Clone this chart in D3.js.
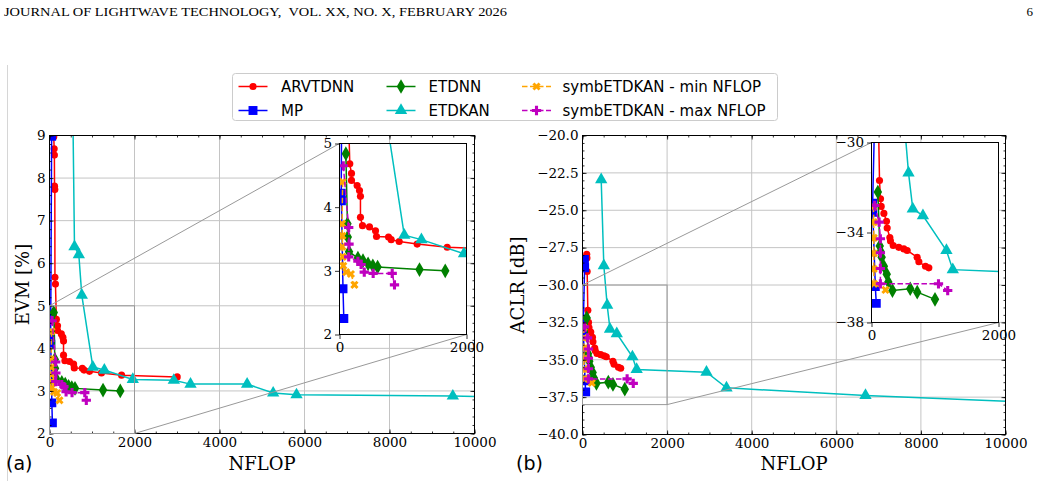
<!DOCTYPE html>
<html>
<head>
<meta charset="utf-8">
<script src="https://cdn.jsdelivr.net/npm/d3@7"></script>
<style>
body { margin: 0; background: #fff; }
svg { display: block; }
.tick text { font-family: "DejaVu Serif", serif; font-size: 13.5px; fill: #000; }
</style>
</head>
<body>
<div id="chartArea"></div>
<script>
// series, in legend order
const seriesNames = ["ARVTDNN", "MP", "ETDNN", "ETDKAN", "symbETDKAN - min NFLOP", "symbETDKAN - max NFLOP"];
const seriesColors = ["#ff0000", "#0000ff", "#008000", "#00bfbf", "#ffa500", "#bf00bf"];
const seriesShapes = ["circle", "square", "thinDiamond", "triangle", "xFilled", "plusFilled"];
const seriesDashed = [false, false, false, false, true, true];

// (a) EVM [%] vs NFLOP
const evmArvtdnnX = [100, 110, 115, 118, 125, 128, 140, 162, 189, 189, 278, 315, 330, 330, 362, 472, 567, 583, 772, 814, 940, 1223, 1696, 3005];
const evmArvtdnnY = [8.97, 8.69, 8.54, 7.81, 7.73, 5.67, 5.51, 4.68, 4.53, 4.42, 4.34, 4.26, 4.17, 3.84, 3.71, 3.69, 3.63, 3.54, 3.53, 3.49, 3.46, 3.42, 3.37, 3.33];
const evmMpX = [50, 27, 30, 55, 68];
const evmMpY = [8.98, 4.22, 4.1, 2.72, 2.25];
const evmEtdnnX = [100, 125, 130, 150, 290, 370, 450, 525, 600, 1260, 1665];
const evmEtdnnY = [4.84, 3.74, 3.53, 3.3, 3.2, 3.16, 3.11, 3.08, 3.06, 3.02, 3.0];
const evmEtdkanX = [520, 588, 690, 760, 1020, 1290, 1960, 2925, 3318, 4650, 5263, 5812, 9490, 11500];
const evmEtdkanY = [12, 6.39, 6.2, 5.25, 3.56, 3.49, 3.27, 3.25, 3.16, 3.16, 2.95, 2.91, 2.88, 2.83];
const evmSymbMinX = [50, 40, 45, 45, 50, 60, 105, 180, 235];
const evmSymbMinY = [4.4, 3.74, 3.55, 3.38, 3.22, 3.08, 2.98, 2.95, 2.78];
const evmSymbMaxX = [60, 145, 150, 145, 290, 340, 390, 530, 830, 866];
const evmSymbMaxY = [4.65, 3.68, 3.42, 3.22, 3.15, 3.1, 2.98, 2.96, 2.96, 2.78];

// (b) ACLR [dB] vs NFLOP
const aclrArvtdnnX = [100, 105, 110, 126, 142, 153, 195, 236, 247, 289, 299, 342, 430, 509, 562, 719, 746, 850, 903];
const aclrArvtdnnY = [-27.95, -28.2, -29.1, -31.69, -32.5, -32.84, -33.15, -33.5, -33.8, -34.22, -34.38, -34.58, -34.66, -34.73, -34.8, -35.1, -35.3, -35.5, -35.57];
const aclrMpX = [45, 50, 18, 20, 60, 75];
const aclrMpY = [-28.3, -28.85, -32.7, -33.1, -36.4, -37.15];
const aclrEtdnnX = [100, 130, 145, 160, 195, 240, 265, 330, 610, 720, 1000];
const aclrEtdnnY = [-32.2, -34.6, -34.85, -35.1, -35.5, -35.85, -36.2, -36.58, -36.5, -36.65, -36.97];
const aclrEtdkanX = [442, 504, 583, 650, 810, 1180, 1280, 2931, 3404, 6690, 12000];
const aclrEtdkanY = [-22.96, -28.7, -31.35, -32.95, -33.25, -34.8, -35.65, -35.83, -36.88, -37.39, -38.0];
const aclrSymbMinX = [30, 36, 36, 36, 36, 40, 220];
const aclrSymbMinY = [-32.85, -33.54, -34.24, -34.93, -35.62, -36.28, -36.55];
const aclrSymbMaxX = [50, 120, 140, 140, 140, 140, 1055, 1200];
const aclrSymbMaxY = [-32.8, -33.54, -34.28, -34.9, -35.6, -36.28, -36.28, -36.58];

// ticks
const mainXTicks = [0, 2000, 4000, 6000, 8000, 10000];
const evmYTicks = [2, 3, 4, 5, 6, 7, 8, 9];
const aclrYTicks = [-40, -37.5, -35, -32.5, -30, -27.5, -25, -22.5, -20];
const insetXTicks = [0, 2000];
const evmInsetYTicks = [2, 3, 4, 5];
const aclrInsetYTicks = [-38, -34, -30];

const zip = (xs, ys) => xs.map((v, i) => ({x: v, y: ys[i]}));
const evmSeries = [
  zip(evmArvtdnnX, evmArvtdnnY), zip(evmMpX, evmMpY), zip(evmEtdnnX, evmEtdnnY),
  zip(evmEtdkanX, evmEtdkanY), zip(evmSymbMinX, evmSymbMinY), zip(evmSymbMaxX, evmSymbMaxY)
];
const aclrSeries = [
  zip(aclrArvtdnnX, aclrArvtdnnY), zip(aclrMpX, aclrMpY), zip(aclrEtdnnX, aclrEtdnnY),
  zip(aclrEtdkanX, aclrEtdkanY), zip(aclrSymbMinX, aclrSymbMinY), zip(aclrSymbMaxX, aclrSymbMaxY)
];

const svg = d3.select('#chartArea').append('svg').attr('width', 1041).attr('height', 487);

let markerPath = function (shape) {
  if (shape == "circle") return d3.symbol(d3.symbolCircle, 40)();
  if (shape == "square") return d3.symbol(d3.symbolSquare, 80)();
  if (shape == "thinDiamond") return d3.symbol(d3.symbolDiamond, 62)();
  if (shape == "triangle") return d3.symbol(d3.symbolTriangle, 66)();
  if (shape == "plusFilled") return d3.symbol(d3.symbolCross, 48)();
  return d3.symbol(d3.symbolCross, 42)();
};
let markerRotate = shape => shape == "xFilled" ? " rotate(45)" : "";

// header
svg.append("text").attr("x", 4).attr("y", 16)
  .attr("font-family", "Liberation Serif, serif").attr("font-size", 13)
  .attr("textLength", 503).attr("lengthAdjust", "spacingAndGlyphs")
  .text("JOURNAL OF LIGHTWAVE TECHNOLOGY,\u00a0 VOL. XX, NO. X, FEBRUARY 2026");
svg.append("text").attr("x", 1033).attr("y", 16).attr("text-anchor", "end")
  .attr("font-family", "Liberation Serif, serif").attr("font-size", 13).text("6");

svg.append("line").attr("x1", 7.5).attr("x2", 7.5).attr("y1", 65).attr("y2", 481)
  .attr("stroke", "#d6d6d6").attr("stroke-width", 1);

let clipCount = 0;
function drawSeries(g, data, x, y, clipId) {
  const line = d3.line().x(d => x(d.x)).y(d => y(d.y));
  data.forEach((pts, i) => {
    const sg = g.append("g").attr("clip-path", `url(#${clipId})`);
    sg.append("path").attr("d", line(pts)).attr("fill", "none")
      .attr("stroke", seriesColors[i]).attr("stroke-width", 1.5)
      .attr("stroke-dasharray", seriesDashed[i] ? "5.5,2.5" : null);
    sg.selectAll("path.mk").data(pts).enter().append("path").attr("class", "mk")
      .attr("d", markerPath(seriesShapes[i]))
      .attr("transform", d => `translate(${x(d.x)},${y(d.y)})` + markerRotate(seriesShapes[i]))
      .attr("fill", seriesColors[i]);
  });
}

function addClip(l, t, w, h) {
  const id = "clip" + (clipCount++);
  svg.append("clipPath").attr("id", id).append("rect")
    .attr("x", l).attr("y", t).attr("width", w).attr("height", h);
  return id;
}

function drawPanel(cfg) {
  const g = svg.append("g");
  const x = d3.scaleLinear().domain([0, 10000]).range([cfg.left, cfg.right]);
  const y = d3.scaleLinear().domain(cfg.yDomain).range([cfg.bottom, cfg.top]);

  // grid
  g.selectAll("line.gx").data(mainXTicks).enter().append("line")
    .attr("x1", d => x(d)).attr("x2", d => x(d)).attr("y1", cfg.top).attr("y2", cfg.bottom)
    .attr("stroke", "#c4c4c4").attr("stroke-width", 1);
  g.selectAll("line.gy").data(cfg.yTicks).enter().append("line")
    .attr("y1", d => y(d)).attr("y2", d => y(d)).attr("x1", cfg.left).attr("x2", cfg.right)
    .attr("stroke", "#c4c4c4").attr("stroke-width", 1);

  const clipId = addClip(cfg.left, cfg.top, cfg.right - cfg.left, cfg.bottom - cfg.top);
  drawSeries(g, cfg.series, x, y, clipId);

  // ticks, inward on all four sides
  const minorX = d3.range(0, 10001, 500);
  const minorY = d3.range(cfg.yDomain[0], cfg.yDomain[1] + 1e-9, cfg.yMinor);
  g.append("g").attr("transform", `translate(0,${cfg.bottom})`)
    .call(d3.axisBottom(x).tickValues(mainXTicks).tickSize(-4).tickPadding(4).tickFormat(d3.format("d")));
  g.append("g").attr("transform", `translate(0,${cfg.bottom})`)
    .call(d3.axisBottom(x).tickValues(minorX).tickSize(-2).tickFormat(""));
  g.append("g").attr("transform", `translate(0,${cfg.top})`)
    .call(d3.axisTop(x).tickValues(mainXTicks).tickSize(-4).tickFormat(""));
  g.append("g").attr("transform", `translate(0,${cfg.top})`)
    .call(d3.axisTop(x).tickValues(minorX).tickSize(-2).tickFormat(""));
  g.append("g").attr("transform", `translate(${cfg.left},0)`)
    .call(d3.axisLeft(y).tickValues(cfg.yTicks).tickSize(-4).tickPadding(4).tickFormat(cfg.yFormat));
  g.append("g").attr("transform", `translate(${cfg.left},0)`)
    .call(d3.axisLeft(y).tickValues(minorY).tickSize(-2).tickFormat(""));
  g.append("g").attr("transform", `translate(${cfg.right},0)`)
    .call(d3.axisRight(y).tickValues(cfg.yTicks).tickSize(-4).tickFormat(""));
  g.append("g").attr("transform", `translate(${cfg.right},0)`)
    .call(d3.axisRight(y).tickValues(minorY).tickSize(-2).tickFormat(""));
  g.selectAll(".domain").remove();
  g.selectAll(".tick line").attr("stroke", "#000").attr("stroke-width", 0.8);

  g.append("rect").attr("x", cfg.left).attr("y", cfg.top)
    .attr("width", cfg.right - cfg.left).attr("height", cfg.bottom - cfg.top)
    .attr("fill", "none").attr("stroke", "#000").attr("stroke-width", 1);

  // zoomed region and connectors
  const ins = cfg.inset;
  const gray = "#999999";
  g.append("rect").attr("x", x(0)).attr("y", y(ins.yDomain[1]))
    .attr("width", x(2000) - x(0)).attr("height", y(ins.yDomain[0]) - y(ins.yDomain[1]))
    .attr("fill", "none").attr("stroke", gray).attr("stroke-width", 1);
  g.append("line").attr("x1", x(0)).attr("y1", y(ins.yDomain[1]))
    .attr("x2", ins.left).attr("y2", ins.top).attr("stroke", gray).attr("stroke-width", 1);
  g.append("line").attr("x1", x(2000)).attr("y1", y(ins.yDomain[0]))
    .attr("x2", ins.right).attr("y2", ins.bottom).attr("stroke", gray).attr("stroke-width", 1);

  // inset
  const ix = d3.scaleLinear().domain([0, 2000]).range([ins.left, ins.right]);
  const iy = d3.scaleLinear().domain(ins.yDomain).range([ins.bottom, ins.top]);
  const ig = svg.append("g");
  ig.append("rect").attr("x", ins.left).attr("y", ins.top)
    .attr("width", ins.right - ins.left).attr("height", ins.bottom - ins.top).attr("fill", "#fff");
  const iclip = addClip(ins.left, ins.top, ins.right - ins.left, ins.bottom - ins.top);
  drawSeries(ig, cfg.series, ix, iy, iclip);
  ig.append("g").attr("transform", `translate(0,${ins.bottom})`)
    .call(d3.axisBottom(ix).tickValues(insetXTicks).tickSize(4.5).tickPadding(3).tickFormat(d3.format("d")));
  ig.append("g").attr("transform", `translate(${ins.left},0)`)
    .call(d3.axisLeft(iy).tickValues(ins.yTicks).tickSize(4.5).tickPadding(3).tickFormat(d3.format("d")));
  ig.selectAll(".domain").remove();
  ig.selectAll(".tick line").attr("stroke", "#000").attr("stroke-width", 0.8);
  ig.append("rect").attr("x", ins.left).attr("y", ins.top)
    .attr("width", ins.right - ins.left).attr("height", ins.bottom - ins.top)
    .attr("fill", "none").attr("stroke", "#000").attr("stroke-width", 1);

  // labels
  svg.append("text").attr("x", (cfg.left + cfg.right) / 2).attr("y", 470)
    .attr("text-anchor", "middle").attr("font-family", "DejaVu Serif, serif").attr("font-size", 18)
    .text("NFLOP");
  svg.append("text").attr("transform", `translate(${cfg.yLabelX},${(cfg.top + cfg.bottom) / 2}) rotate(-90)`)
    .attr("text-anchor", "middle").attr("font-family", "DejaVu Serif, serif").attr("font-size", 18)
    .text(cfg.yLabel);
  svg.append("text").attr("x", cfg.tagX).attr("y", 470)
    .attr("font-family", "DejaVu Sans, sans-serif").attr("font-size", 19)
    .text(cfg.tag);
}

drawPanel({
  left: 49.5, right: 474.5, top: 135.5, bottom: 433.5,
  yDomain: [2, 9], yTicks: evmYTicks, yMinor: 0.2, yFormat: d3.format("d"),
  series: evmSeries, yLabel: "EVM [%]", yLabelX: 29, tag: "(a)", tagX: 6,
  inset: {left: 339.5, right: 466.5, top: 143.5, bottom: 334.5, yDomain: [2, 5], yTicks: evmInsetYTicks}
});

drawPanel({
  left: 582.5, right: 1005.5, top: 135.5, bottom: 434.5,
  yDomain: [-40, -20], yTicks: aclrYTicks, yMinor: 0.5, yFormat: d3.format(".1f"),
  series: aclrSeries, yLabel: "ACLR [dB]", yLabelX: 524, tag: "(b)", tagX: 516,
  inset: {left: 871.5, right: 998.5, top: 142.5, bottom: 322.5, yDomain: [-38, -30], yTicks: aclrInsetYTicks}
});

// legend
const legendCols = [[0, 1], [2, 3], [4, 5]];
const handleX = [238.5, 386.5, 522];
const textX = [281, 428.5, 562.5];
const rowY = [86.5, 110.5];
const lg = svg.append("g");
lg.append("rect").attr("x", 232.5).attr("y", 73.5).attr("width", 545).attr("height", 47)
  .attr("rx", 3).attr("fill", "#fff").attr("stroke", "#cccccc").attr("stroke-width", 1);
legendCols.forEach((col, c) => {
  col.forEach((si, r) => {
    const yy = rowY[r];
    lg.append("line").attr("x1", handleX[c]).attr("x2", handleX[c] + 29).attr("y1", yy).attr("y2", yy)
      .attr("stroke", seriesColors[si]).attr("stroke-width", 1.5)
      .attr("stroke-dasharray", seriesDashed[si] ? "5.5,2.5" : null);
    lg.append("path").attr("d", markerPath(seriesShapes[si]))
      .attr("transform", `translate(${handleX[c] + 14.5},${yy})` + markerRotate(seriesShapes[si]))
      .attr("fill", seriesColors[si]);
    lg.append("text").attr("x", textX[c]).attr("y", yy).attr("dy", "0.36em")
      .attr("font-family", "DejaVu Sans, sans-serif").attr("font-size", 15)
      .text(seriesNames[si]);
  });
});
</script>
</body>
</html>
